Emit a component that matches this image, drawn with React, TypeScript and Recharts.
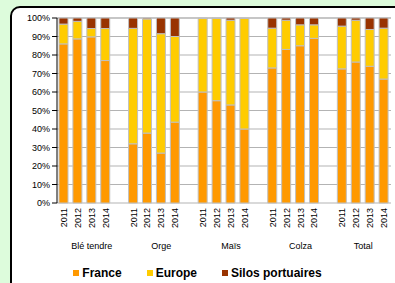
import { BarChart, Bar, XAxis, YAxis, CartesianGrid, Legend } from 'recharts';

const groups = ['Blé tendre', 'Orge', 'Maïs', 'Colza', 'Total'];
const years = ['2011', '2012', '2013', '2014'];

// per group, 4 years each (Blé, Orge, Maïs, Colza, Total)
const france = [86, 88.7, 89.8, 77, 32, 37.8, 27, 43.7, 60, 55.3, 53, 40, 73, 83, 85, 89, 72.5, 76.2, 73.9, 67];
const europe = [10.7, 9.5, 4.5, 17.3, 62.4, 61.7, 64.5, 46.3, 39.7, 44.5, 45.8, 59.8, 21.5, 15.8, 11.3, 7.3, 23.1, 22.6, 19.9, 27.5];
const silos = [3.3, 1.8, 5.7, 5.7, 5.6, 0.5, 8.5, 10, 0.3, 0.2, 1.2, 0.2, 5.5, 1.2, 3.7, 3.7, 4.4, 1.2, 6.2, 5.5];

const yTicks = [0, 10, 20, 30, 40, 50, 60, 70, 80, 90, 100];

const COLORS = { france: '#ff9900', europe: '#ffcc00', silos: '#993300' };
const FONT = 'Arial, "Liberation Sans", sans-serif';

const rows: any[] = [];
groups.forEach((g, gi) => {
  if (gi > 0) rows.push({ slot: `gap-${gi}`, year: '', group: '' });
  years.forEach((y, yi) => {
    const i = gi * 4 + yi;
    rows.push({ slot: `${g}-${y}`, year: y, group: g, yi, france: france[i], europe: europe[i], silos: silos[i] });
  });
});

function XTick(props: any) {
  const { x, y, payload } = props;
  const row = rows.find((r) => r.slot === payload.value);
  if (!row || !row.year) return null;
  // last group has no trailing gap slot, so its label sits between 2012 and 2013
  const isTotal = row.group === 'Total';
  const showGroup = isTotal ? row.yi === 1 : row.yi === 2;
  const gx = isTotal ? x + 7 : x;
  return (
    <g>
      <text
        x={x}
        y={y + 5}
        transform={`rotate(-90, ${x}, ${y + 5})`}
        textAnchor="end"
        dy={3}
        fontSize={9}
        fontFamily={FONT}
        fill="#000"
      >
        {row.year}
      </text>
      {showGroup && (
        <text x={gx} y={y + 46} textAnchor="middle" fontSize={9} fontFamily={FONT} fill="#000">
          {row.group}
        </text>
      )}
    </g>
  );
}

function LegendBox() {
  const items = [
    { label: 'France', color: COLORS.france },
    { label: 'Europe', color: COLORS.europe },
    { label: 'Silos portuaires', color: COLORS.silos },
  ];
  return (
    <div style={{ display: 'flex', justifyContent: 'center', gap: 25, fontFamily: FONT, fontSize: 12, fontWeight: 'bold', lineHeight: '16px', color: '#000' }}>
      {items.map((it) => (
        <div key={it.label} style={{ display: 'flex', alignItems: 'center' }}>
          <span style={{ display: 'inline-block', width: 6, height: 6, background: it.color, marginRight: 3 }} />
          {it.label}
        </div>
      ))}
    </div>
  );
}

export default function App() {
  return (
    <div style={{ position: 'fixed', left: 0, top: 0, width: 395, height: 283, background: '#ddfcdc', overflow: 'hidden' }}>
      <div
        style={{
          position: 'absolute',
          left: 10,
          top: 6,
          width: 400,
          height: 290,
          border: '2px solid #000',
          borderRadius: 10,
          background: '#fff',
        }}
      />
      <div style={{ position: 'absolute', left: 0, top: 0 }}>
        <BarChart width={395} height={283} data={rows} margin={{ top: 18, right: 4, left: 0, bottom: 0 }} barSize={9}>
          <CartesianGrid vertical={false} stroke="#b3b3b3" />
          <XAxis
            dataKey="slot"
            interval={0}
            height={80}
            axisLine={false}
            tickLine={false}
            tickSize={0}
            tickMargin={0}
            tick={<XTick />}
          />
          <YAxis
            domain={[0, 100]}
            ticks={yTicks}
            width={57}
            tickFormatter={(v) => `${v}%`}
            tick={{ fontSize: 9, fontFamily: FONT, fill: '#000' }}
            axisLine={{ stroke: '#000' }}
            tickLine={{ stroke: '#000' }}
            tickSize={5}
            tickMargin={2}
            interval={0}
          />
          <YAxis yAxisId="r" orientation="right" width={0} tick={false} tickLine={false} axisLine={{ stroke: '#b3b3b3' }} domain={[0, 100]} />
          <Bar dataKey="france" name="France" stackId="a" fill={COLORS.france} stroke="#c0c0c0" strokeWidth={1} isAnimationActive={false} />
          <Bar dataKey="europe" name="Europe" stackId="a" fill={COLORS.europe} stroke="#c0c0c0" strokeWidth={1} isAnimationActive={false} />
          <Bar dataKey="silos" name="Silos portuaires" stackId="a" fill={COLORS.silos} stroke="#c0c0c0" strokeWidth={1} isAnimationActive={false} />
          <Legend verticalAlign="middle" align="center" content={<LegendBox />} wrapperStyle={{ top: 265, left: 0, width: 395 }} />
        </BarChart>
      </div>
    </div>
  );
}
